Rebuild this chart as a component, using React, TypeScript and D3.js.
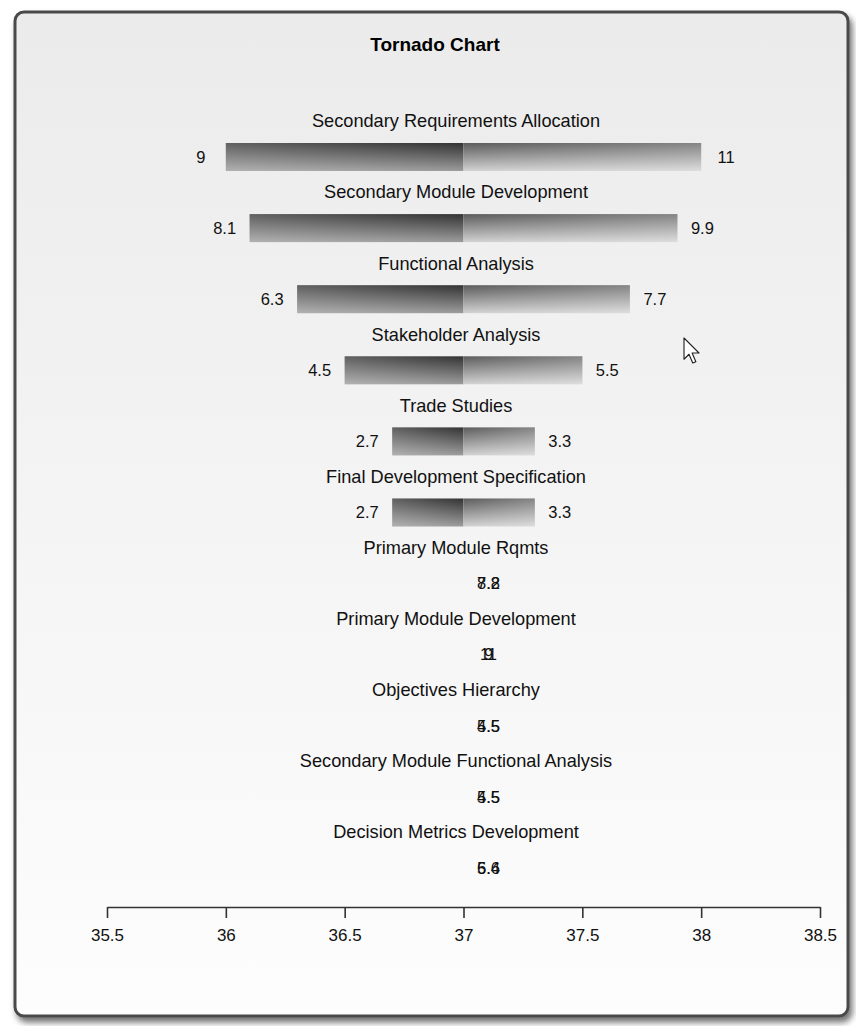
import React from "react";
import * as d3 from "d3";

// tornado rows, top to bottom
const names = [
  "Secondary Requirements Allocation",
  "Secondary Module Development",
  "Functional Analysis",
  "Stakeholder Analysis",
  "Trade Studies",
  "Final Development Specification",
  "Primary Module Rqmts",
  "Primary Module Development",
  "Objectives Hierarchy",
  "Secondary Module Functional Analysis",
  "Decision Metrics Development",
];
const lowInputs = ["9", "8.1", "6.3", "4.5", "2.7", "2.7", "7.2", "9", "4.5", "4.5", "5.4"];
const highInputs = ["11", "9.9", "7.7", "5.5", "3.3", "3.3", "8.8", "11", "5.5", "5.5", "6.6"];
const lowOutputs = [36, 36.1, 36.3, 36.5, 36.7, 36.7, 37, 37, 37, 37, 37];
const highOutputs = [38, 37.9, 37.7, 37.5, 37.3, 37.3, 37, 37, 37, 37, 37];
const baseOutput = 37;
const xTicks = [35.5, 36, 36.5, 37, 37.5, 38, 38.5];

const W = 856;
const H = 1026;
const FONT = "'Liberation Sans', Arial, sans-serif";

export default function App() {
  const axisRef = React.useRef<SVGGElement>(null);

  const x = d3.scaleLinear().domain([35.5, 38.5]).range([107, 820]);
  const y = d3.scalePoint<string>().domain(names).range([157, 868]);
  const barH = 28;
  const axisY = 907;

  React.useEffect(() => {
    const g = d3.select(axisRef.current);
    g.selectAll("*").remove();
    g.call(
      d3.axisBottom(x)
        .tickValues(xTicks)
        .tickFormat((d) => String(d))
        .tickSize(11)
        .tickSizeOuter(0)
        .tickPadding(11)
    );
    g.select(".domain").attr("stroke", "#333").attr("stroke-width", 1.6);
    g.selectAll(".tick line").attr("stroke", "#333").attr("stroke-width", 1.6);
    g.selectAll(".tick text")
      .attr("font-family", FONT)
      .attr("font-size", 17)
      .attr("fill", "#111");
  }, []);

  const data = names.map((name, i) => ({
    name,
    lowLabel: lowInputs[i],
    highLabel: highInputs[i],
    low: lowOutputs[i],
    high: highOutputs[i],
  }));

  return (
    <svg width={W} height={H} style={{ position: "absolute", left: 0, top: 0, background: "#fff" }}>
      <defs>
        <linearGradient id="panelBg" x1="0" y1="0" x2="0" y2="1">
          <stop offset="0" stopColor="#ebebeb" />
          <stop offset="1" stopColor="#fdfdfd" />
        </linearGradient>
        <linearGradient id="lowFill" x1="0" y1="0" x2="0" y2="1">
          <stop offset="0" stopColor="#333" />
          <stop offset="1" stopColor="#9c9c9c" />
        </linearGradient>
        <linearGradient id="highFill" x1="0" y1="0" x2="0" y2="1">
          <stop offset="0" stopColor="#5c5c5c" />
          <stop offset="1" stopColor="#d2d2d2" />
        </linearGradient>
        <linearGradient id="fadeLeft" x1="0" y1="0" x2="1" y2="0">
          <stop offset="0" stopColor="#fff" stopOpacity={0.22} />
          <stop offset="1" stopColor="#fff" stopOpacity={0} />
        </linearGradient>
        <linearGradient id="fadeRight" x1="0" y1="0" x2="1" y2="0">
          <stop offset="0" stopColor="#fff" stopOpacity={0} />
          <stop offset="1" stopColor="#fff" stopOpacity={0.25} />
        </linearGradient>
        <filter id="frameShadow" x="-5%" y="-5%" width="110%" height="110%">
          <feDropShadow dx="3" dy="5" stdDeviation="3" floodColor="#000" floodOpacity="0.55" />
        </filter>
      </defs>

      {/* frame */}
      <rect x={15} y={12} width={833} height={1004} rx={9}
        fill="url(#panelBg)" stroke="#4a4a4a" strokeWidth={3} filter="url(#frameShadow)" />

      <text x={435} y={44} dy="0.35em" textAnchor="middle" fontFamily={FONT} fontWeight="bold" fontSize={19} fill="#000">
        Tornado Chart
      </text>

      {data.map((d) => {
        const cy = y(d.name)!;
        const x0 = x(d.low);
        const xb = x(baseOutput);
        const x1 = x(d.high);
        const flat = d.low === d.high;
        return (
          <g key={d.name} fontFamily={FONT} fill="#111">
            <text x={456} y={cy - 36} dy="0.35em" textAnchor="middle" fontSize={18.2}>{d.name}</text>
            {!flat && (
              <>
                <rect x={x0} y={cy - barH / 2} width={xb - x0} height={barH} fill="url(#lowFill)" />
                <rect x={x0} y={cy - barH / 2} width={xb - x0} height={barH} fill="url(#fadeLeft)" />
                <rect x={xb} y={cy - barH / 2} width={x1 - xb} height={barH} fill="url(#highFill)" />
                <rect x={xb} y={cy - barH / 2} width={x1 - xb} height={barH} fill="url(#fadeRight)" />
              </>
            )}
            <text x={flat ? xb + 25 : x0 - 25} y={cy} dy="0.35em" textAnchor="middle" fontSize={16.5}>
              {d.lowLabel}
            </text>
            <text x={flat ? xb + 25 : x1 + 25} y={cy} dy="0.35em" textAnchor="middle" fontSize={16.5}>
              {d.highLabel}
            </text>
          </g>
        );
      })}

      <g ref={axisRef} transform={`translate(0,${axisY})`} />

      {/* mouse pointer captured in the screenshot */}
      <path transform="translate(684,338) scale(1.25)"
        d="M0,0 L0,17 L4,13 L7,20 L9.5,19 L6.5,12 L12,12 Z"
        fill="#fff" stroke="#222" strokeWidth={0.9} strokeLinejoin="round" />
    </svg>
  );
}
